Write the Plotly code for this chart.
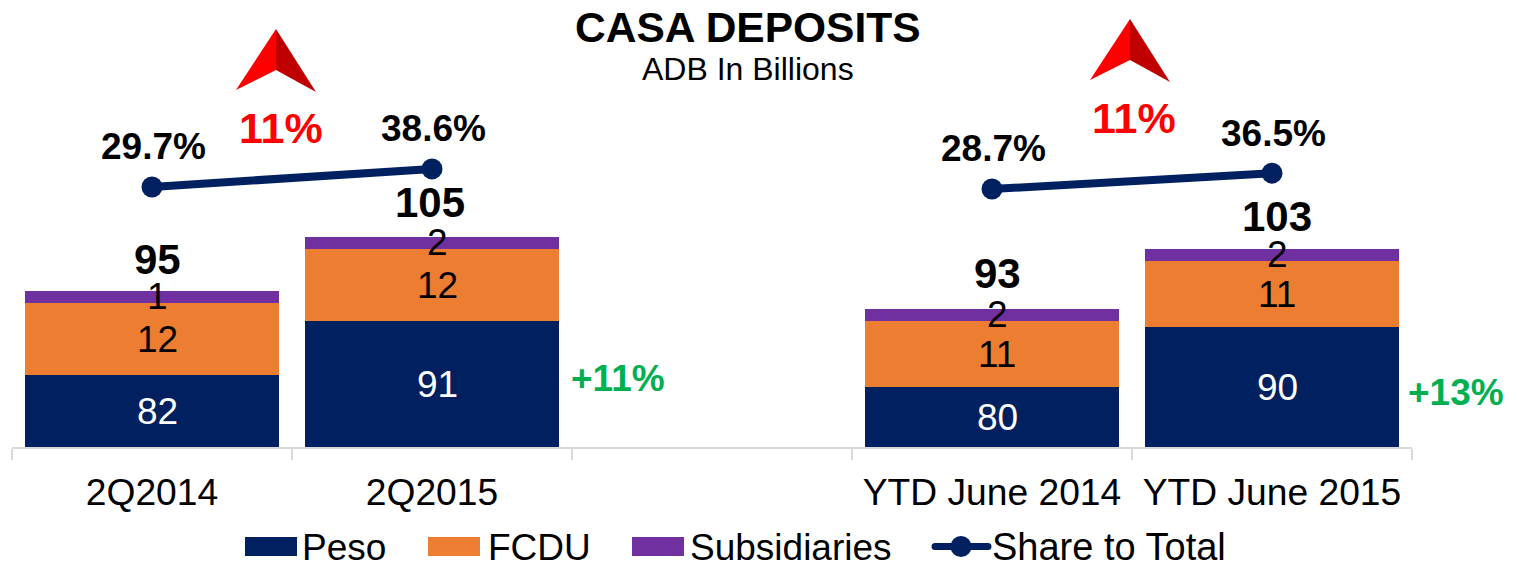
import plotly.graph_objects as go

categories = ["2Q2014", "2Q2015", " ", "YTD June 2014", "YTD June 2015"]
peso = [82, 91, None, 80, 90]
fcdu = [12, 12, None, 11, 11]
subsidiaries = [2, 2, None, 2, 2]
share = [29.7, 38.6, None, 28.7, 36.5]
peso_labels = ["82", "91", "", "80", "90"]
fcdu_labels = ["12", "12", "", "11", "11"]
subs_labels = ["1", "2", "", "2", "2"]
total_labels = ["95", "105", "", "93", "103"]
total_yoffsets = [32, 35, 0, 36, 33]
total_xoffsets = [5, -2, 0, 5, 5]
legend_names = ["Peso", "FCDU", "Subsidiaries", "Share to Total"]

NAVY, ORANGE, PURPLE = "#002060", "#ed7d31", "#7030a0"
FONT = "Liberation Sans, Arial, sans-serif"
W, H = 1517, 562
L, R, BASE = 12, 1412, 447


def px(x):
    return (x - L) / (R - L)


def py(y):
    return (BASE - y) / BASE


fig = go.Figure()
for name, vals, col in [("Peso", peso, NAVY), ("FCDU", fcdu, ORANGE), ("Subsidiaries", subsidiaries, PURPLE)]:
    fig.add_bar(x=categories, y=vals, name=name, marker=dict(color=col, line=dict(width=0)),
                hoverinfo="x+y+name")
fig.add_scatter(x=categories, y=share, yaxis="y2", mode="lines+markers", name="Share to Total",
                line=dict(color=NAVY, width=8), marker=dict(color=NAVY, size=21), connectgaps=False)

ann = []


def text(x, y, t, size, color="#000000", bold=False, xref="x", yref="y", xshift=0, yshift=0, anchor="center"):
    ann.append(dict(x=x, y=y, xref=xref, yref=yref, text=f"<b>{t}</b>" if bold else t, showarrow=False,
                    xanchor=anchor, yanchor="middle", xshift=xshift, yshift=yshift,
                    font=dict(family=FONT, size=size, color=color)))


for i, c in enumerate(categories):
    if peso[i] is None:
        continue
    text(c, 70 + (peso[i] - 70) / 2, peso_labels[i], 37, "#ffffff", xshift=5, yshift=0)
    text(c, peso[i] + fcdu[i] / 2, fcdu_labels[i], 37, xshift=5, yshift=0)
    top = peso[i] + fcdu[i] + subsidiaries[i]
    text(c, top - subsidiaries[i] / 2, subs_labels[i], 37, xshift=5, yshift=1)
    text(c, top, total_labels[i], 42, bold=True, xshift=total_xoffsets[i], yshift=total_yoffsets[i])
    text(c, share[i], f"{share[i]}%", 37, bold=True, yref="y2", xshift=1, yshift=40)

text(px(748), py(27), "CASA DEPOSITS", 42.5, bold=True, xref="paper", yref="paper")
text(px(748), py(69), "ADB In Billions", 32, xref="paper", yref="paper")
text(px(281), py(128), "11%", 43, "#ff0000", True, "paper", "paper")
text(px(1134), py(118), "11%", 43, "#ff0000", True, "paper", "paper")
text(px(618), py(378), "+11%", 37, "#00b050", True, "paper", "paper")
text(px(1456), py(392), "+13%", 37, "#00b050", True, "paper", "paper")


def poly(points, color):
    d = "M" + " L".join(f"{px(a):.5f},{py(b):.5f}" for a, b in points) + " Z"
    return dict(type="path", xref="paper", yref="paper", path=d, fillcolor=color, line=dict(width=0))


def dot(cx, cy, r):
    return dict(type="circle", xref="paper", yref="paper", x0=px(cx - r), x1=px(cx + r), y0=py(cy + r), y1=py(cy - r),
                fillcolor=NAVY, line=dict(width=0))


shapes = []
for dx, dy in [(0, 0), (854, -10)]:
    shapes.append(poly([(276 + dx, 29 + dy), (236 + dx, 90 + dy), (276 + dx, 70 + dy)], "#ff0000"))
    shapes.append(poly([(276 + dx, 29 + dy), (276 + dx, 70 + dy), (316 + dx, 92 + dy)], "#c00000"))

# Legend drawn by hand: the swatches are far taller than plotly's legend allows.
for x0, col in [(245, NAVY), (428, ORANGE), (632, PURPLE)]:
    shapes.append(dict(type="rect", xref="paper", yref="paper", x0=px(x0), x1=px(x0 + 52),
                       y0=py(556), y1=py(537), fillcolor=col, line=dict(width=0)))
shapes.append(dict(type="line", xref="paper", yref="paper", x0=px(935), x1=px(988), y0=py(546.5), y1=py(546.5),
                   line=dict(color=NAVY, width=7)))
shapes += [dot(935, 546.5, 3.5), dot(988, 546.5, 3.5), dot(961, 546.5, 10.5)]
for x0, name, size in zip([300, 485.5, 688, 990], legend_names, [37, 37, 37, 38]):
    text(px(x0), py(547), name, size, xref="paper", yref="paper", anchor="left")

fig.update_layout(
    width=W, height=H, barmode="stack", bargap=0.09, plot_bgcolor="#ffffff", paper_bgcolor="#ffffff",
    margin=dict(l=L, r=W - R, t=0, b=H - BASE, autoexpand=False),
    font=dict(family=FONT, color="#000000"), showlegend=False,
    xaxis=dict(type="category", categoryorder="array", categoryarray=categories, tickmode="array",
               tickvals=categories, ticktext=categories, tickson="boundaries", ticks="outside", ticklen=11,
               tickcolor="#d9d9d9", tickwidth=2, showline=True, linecolor="#d9d9d9", linewidth=2,
               showgrid=False, tickfont=dict(family=FONT, size=37.2, color="#000000"), ticklabelstandoff=11),
    yaxis=dict(range=[70, 144.5], visible=False, showgrid=False, zeroline=False),
    yaxis2=dict(range=[-98.4, 121.8], overlaying="y", visible=False, showgrid=False, zeroline=False),
    annotations=ann, shapes=shapes,
)
fig.write_html("out.html", config=dict(displayModeBar=False), post_script="document.body.style.margin='0';")
